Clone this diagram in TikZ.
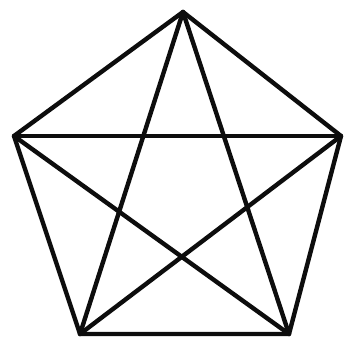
\documentclass[tikz,border=0pt]{standalone}
\begin{document}
\begin{tikzpicture}[x=1pt,y=-1pt,
  edge/.style={line width=4.4pt, color=black!95, line cap=round, line join=round},
  vert/.style={inner sep=0pt, minimum size=0pt}]
\useasboundingbox[fill=white] (0,0) rectangle (344,338);
\node[vert] (t) at (183,12) {};
\node[vert] (l) at (14,136) {};
\node[vert] (r) at (341,136) {};
\node[vert] (bl) at (80,334) {};
\node[vert] (br) at (289,334) {};
\draw[edge] (t.center) -- (l.center) -- (bl.center) -- (br.center) -- (r.center) -- (t.center);
\draw[edge] (t.center) -- (bl.center);
\draw[edge] (t.center) -- (br.center);
\draw[edge] (l.center) -- (r.center);
\draw[edge] (l.center) -- (br.center);
\draw[edge] (r.center) -- (bl.center);
\end{tikzpicture}
\end{document}
